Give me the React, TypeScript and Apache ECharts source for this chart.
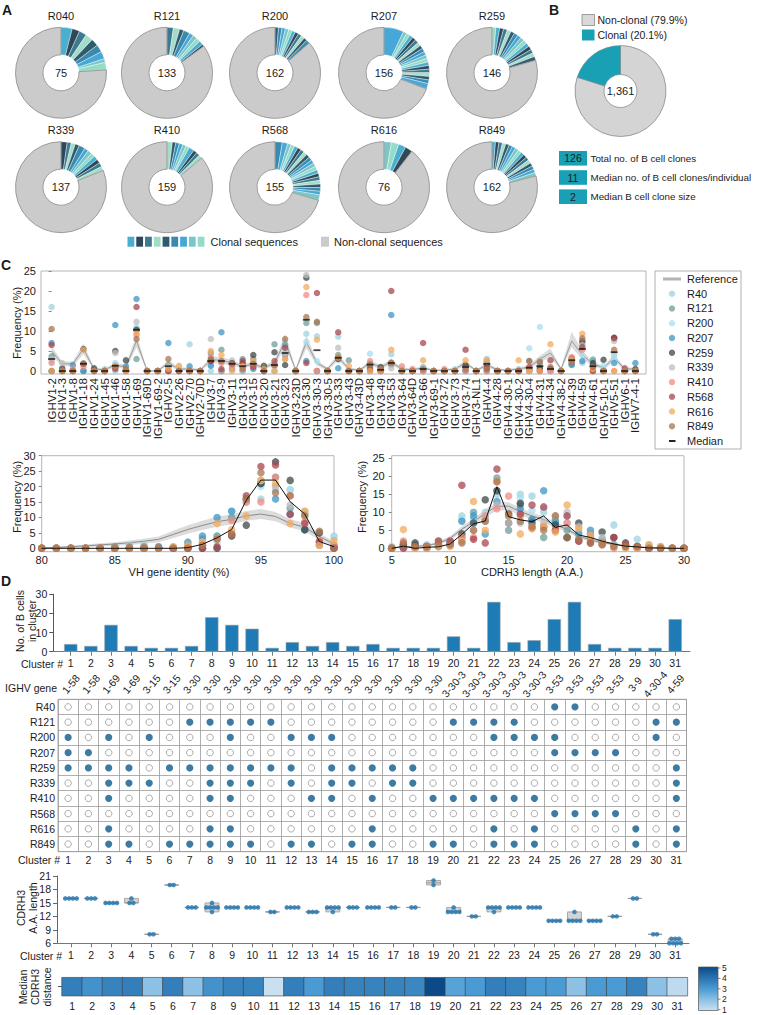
import React, { useEffect, useRef } from 'react';
import * as echarts from 'echarts';

const FONT = '"Liberation Sans", Arial, Helvetica, sans-serif';
const INK = '#1b1b1b';

// ---------- Panel A: clonal composition per donor ----------
const donorLabels = ['R040', 'R121', 'R200', 'R207', 'R259', 'R339', 'R410', 'R568', 'R616', 'R849'];
const donorTotals = [75, 133, 162, 156, 146, 137, 159, 155, 76, 162];
const clonesR040 = [3, 2, 2, 2, 2, 2, 2, 1, 2];
const clonesR121 = [3, 3, 2, 3, 2, 2, 2, 2, 1];
const clonesR200 = [2, 2, 2, 2, 2, 2, 2, 2, 2, 2, 2];
const clonesR207 = [11, 2, 2, 2, 2, 2, 2, 2, 2, 2, 2, 2, 2, 2, 2, 2, 2, 2, 3];
const clonesR259 = [2, 2, 2, 2, 2, 2, 2, 2, 2, 2, 2, 2, 2, 2, 2];
const clonesR339 = [3, 2, 2, 2, 3, 2, 2, 2, 2, 2, 2, 2];
const clonesR410 = [3, 2, 2, 2, 2, 2, 3, 2, 2, 2];
const clonesR568 = [4, 3, 2, 2, 2, 2, 2, 2, 2, 2, 2, 2, 2, 2, 2, 2, 2, 2, 2, 2, 3];
const clonesR616 = [2, 2, 2, 2];
const clonesR849 = [2, 2, 2, 2, 2, 2, 2, 2, 2, 2, 2, 2, 2, 2, 2, 2, 2];
const donorClones = [clonesR040, clonesR121, clonesR200, clonesR207, clonesR259, clonesR339, clonesR410, clonesR568, clonesR616, clonesR849];
const clonalPalette = ['#4aaed0', '#2f4858', '#3c7a92', '#a5dcc8', '#2f5c6c', '#3a8ab0', '#47a8d8', '#7cc6c8', '#95dcc8'];

// ---------- Panel B ----------
const overallTotalLabel = '1,361';
const overallNames = ['Non-clonal (79.9%)', 'Clonal (20.1%)'];
const overallShares = [79.9, 20.1];
const statValues = ['126', '11', '2'];
const statLabels = ['Total no. of B cell clones', 'Median no. of B cell clones/individual', 'Median B cell clone size'];

// ---------- Panel C ----------
const subjects = ['R40', 'R121', 'R200', 'R207', 'R259', 'R339', 'R410', 'R568', 'R616', 'R849'];
const subjectColors = ['#9fd3df', '#6f9e9c', '#a7dff0', '#3d94c6', '#3f4545', '#bdbdbd', '#f28b83', '#a8464f', '#f2a95c', '#a8754f'];
const ighvGenes = ['IGHV1-2', 'IGHV1-3', 'IGHV1-8', 'IGHV1-18', 'IGHV1-24', 'IGHV1-45', 'IGHV1-46', 'IGHV1-58',
  'IGHV1-69', 'IGHV1-69D', 'IGHV1-69-2', 'IGHV2-5', 'IGHV2-26', 'IGHV2-70', 'IGHV2-70D', 'IGHV3-7',
  'IGHV3-9', 'IGHV3-11', 'IGHV3-13', 'IGHV3-15', 'IGHV3-20', 'IGHV3-21', 'IGHV3-23', 'IGHV3-23D',
  'IGHV3-30', 'IGHV3-30-3', 'IGHV3-30-5', 'IGHV3-33', 'IGHV3-43', 'IGHV3-43D', 'IGHV3-48', 'IGHV3-49',
  'IGHV3-53', 'IGHV3-64', 'IGHV3-64D', 'IGHV3-66', 'IGHV3-69-1', 'IGHV3-72', 'IGHV3-73', 'IGHV3-74',
  'IGHV3-NL1', 'IGHV4-4', 'IGHV4-28', 'IGHV4-30-1', 'IGHV4-30-2', 'IGHV4-30-4', 'IGHV4-31', 'IGHV4-34',
  'IGHV4-38-2', 'IGHV4-39', 'IGHV4-59', 'IGHV4-61', 'IGHV5-10-1', 'IGHV5-51', 'IGHV6-1', 'IGHV7-4-1'];
const geneR40 = [16, 0, 0, 0, 0, 0.5, 0, 0, 10.5, 0, 0, 1, 0, 6.7, 0, 0, 2.3, 2.7, 1, 1.8, 0, 1, 7, 0, 9.3, 8.7, 0, 8.6, 0, 0, 2, 0.5, 4.2, 0, 0, 0.5, 0, 0, 0, 0, 0, 3, 0, 0, 0.5, 0, 1.5, 0, 0, 2, 2, 3, 0.5, 4, 0, 0];
const geneR121 = [3.7, 0, 0, 0, 0, 0, 1.5, 0, 3, 0, 0, 1.5, 0, 0, 0, 4.5, 5.3, 2, 3, 3, 0, 6.7, 6.5, 0, 12, 12, 0, 4, 2.7, 0, 1, 0, 1.5, 0, 0, 1, 0, 0, 0, 1, 0, 2.5, 0, 0, 0, 2.5, 2.5, 0, 0, 1.8, 7, 2.7, 0, 8.3, 0, 0];
const geneR200 = [2.5, 0, 0, 1.8, 0, 0, 2, 0, 11, 0, 0, 0.5, 1, 0, 0, 1.5, 2.5, 1.5, 0.5, 2, 0, 0, 5, 0, 7.3, 2.5, 0, 2.7, 0, 0, 4.3, 0, 2, 0.5, 0, 1, 0, 0, 0.5, 0, 0, 3, 0, 0, 0, 5.7, 11, 0, 0, 1.5, 4, 1, 1.3, 3, 0, 0];
const geneR207 = [7, 0, 1.5, 0, 0, 0, 11.5, 1.2, 18, 0, 0, 7, 0, 1.2, 0, 1.3, 9.7, 0.5, 0, 0.5, 0, 1.5, 4, 0, 2.5, 0, 0, 0.7, 0, 0, 1.5, 0, 14, 0, 0, 0, 0, 0, 0, 0, 0, 0, 0, 0, 0, 0, 1, 0.5, 0, 1.5, 2.5, 1.5, 0, 2, 0, 2];
const geneR259 = [0, 0.7, 0, 5.5, 0.7, 0, 5, 2.7, 10.3, 0, 0, 0, 0, 0, 0, 2.5, 0, 1.8, 2, 4, 1.3, 4.7, 1.5, 0, 23.3, 0, 0, 3, 0, 0, 0, 1, 2, 0, 0, 0, 0, 0, 0, 1.5, 0, 1.7, 0, 0, 0, 0.3, 0.5, 0.5, 0, 3.2, 7.5, 2, 2.8, 8.3, 0, 0.5];
const geneR339 = [3, 2, 0, 2, 0, 0, 4.5, 0, 12.3, 0, 0, 1.2, 0, 0, 0, 8, 0, 1.8, 0, 1.8, 0, 0, 4.5, 0, 24, 0, 0, 5.8, 0, 0, 0, 0, 0.7, 0, 0, 0, 0, 0, 0, 0.5, 0, 2.3, 0, 0, 0, 0, 2.5, 0, 0, 2.5, 6.5, 0, 0, 7.5, 0, 0];
const geneR410 = [2, 0, 0.5, 1, 0, 0, 1, 0, 9, 0, 0, 0, 0, 0, 0, 3.5, 2, 1, 1.2, 1, 0, 1.5, 3, 0, 19, 0, 0, 3.3, 0, 0, 2.5, 0.3, 2.2, 1.2, 0.5, 0, 0, 0.5, 0, 0, 0, 0, 0, 0, 0, 0, 0, 0, 0, 3.5, 5.3, 0, 0, 0, 0, 0];
const geneR568 = [6.5, 0, 0, 1.8, 0, 0, 0.5, 0, 16, 0, 0, 0, 0, 0, 0, 2.5, 0.5, 2, 2.5, 1, 0, 2.5, 5.8, 0, 2, 19.5, 0, 9.7, 0, 0, 0.5, 0, 20, 0, 0, 7, 0, 0, 0, 5.3, 0, 0.7, 0, 0, 0, 1, 0, 2.7, 0, 2.7, 6, 0, 0, 8.2, 0.7, 0];
const geneR616 = [0, 0, 0, 5.3, 0, 0, 1.3, 0, 9.5, 0, 0, 0.5, 1.3, 0, 0, 5, 4, 0, 1.2, 2.5, 0.5, 0, 3, 0, 21, 7.8, 0, 3.5, 1.3, 0, 0, 0, 5.3, 0, 0, 2.7, 0, 0, 0, 2.7, 0, 2.7, 0, 0, 2.7, 0, 0, 6.7, 0, 2.8, 9.3, 0.5, 0, 0, 0, 0];
const geneR849 = [10.5, 0, 0, 1.8, 0, 0, 1, 0.5, 8, 0, 0, 3, 0, 0, 0, 3, 2.5, 1.8, 0.5, 1.8, 0, 1.5, 8, 0, 13.5, 12.3, 0, 3.3, 0, 0, 1.6, 0.5, 2, 0, 0, 0.5, 0, 0, 0, 0.5, 0, 0.5, 0, 0, 0, 2.5, 2.2, 1, 0, 2, 8.2, 1, 0, 5.3, 0, 0];
const geneFreq = [geneR40, geneR121, geneR200, geneR207, geneR259, geneR339, geneR410, geneR568, geneR616, geneR849];
const geneMedian = [3, 0, 0, 1.8, 0, 0, 1.3, 0, 10.3, 0, 0, 1.2, 0, 0, 0, 2.5, 2.5, 1.8, 1.2, 1.8, 0, 1.5, 4.5, 0, 12.8, 5.2, 0, 3.3, 0, 0, 1.6, 0.3, 2, 0, 0, 0.5, 0, 0, 0, 1, 0, 1.8, 0, 0, 0, 0.8, 1.2, 0.5, 0, 2.7, 5.5, 1.2, 0, 4.7, 0, 0];
const geneRef = [5, 1.8, 1.8, 5.5, 0.5, 0.3, 1.5, 1, 7.5, 0, 0, 2, 0.5, 0.5, 0.2, 2.8, 2.7, 2, 1.2, 1.7, 0.8, 2, 7.5, 0.2, 7.2, 2, 0.5, 3.5, 0.5, 0.2, 2, 1, 2.2, 0.5, 0.3, 0.8, 0.1, 0.2, 0.5, 2, 0.1, 1.5, 0.3, 0.2, 0.5, 1, 3, 4.5, 0.5, 7.5, 4, 1.8, 0.8, 3.3, 0.5, 0.5];
const geneRefLow = [3.8, 1.2, 1.2, 4.2, 0.1, 0, 0.9, 0.5, 5.9, 0, 0, 1.3, 0.1, 0.1, 0, 2.0, 1.9, 1.3, 0.7, 1.1, 0.4, 1.3, 5.9, 0, 5.6, 1.3, 0.1, 2.6, 0.1, 0, 1.3, 0.5, 1.5, 0.1, 0, 0.4, 0, 0, 0.1, 1.3, 0, 0.9, 0, 0, 0.1, 0.5, 2.2, 3.4, 0.1, 5.9, 3.0, 1.2, 0.4, 2.4, 0.1, 0.1];
const geneRefHigh = [6.2, 2.4, 2.4, 6.8, 0.9, 0.65, 2.1, 1.5, 9.2, 0.3, 0.3, 2.7, 0.9, 0.9, 0.5, 3.6, 3.5, 2.7, 1.7, 2.3, 1.2, 2.7, 9.2, 0.5, 8.8, 2.7, 0.9, 4.4, 0.9, 0.5, 2.7, 1.5, 2.9, 0.9, 0.65, 1.2, 0.4, 0.5, 0.9, 2.7, 0.4, 2.1, 0.65, 0.5, 0.9, 1.5, 3.8, 5.6, 0.9, 9.8, 5.0, 2.4, 1.2, 4.2, 0.9, 0.9];

const vhIdentity = [80, 81, 82, 83, 84, 85, 86, 87, 88, 89, 90, 91, 92, 93, 94, 95, 96, 97, 98, 99, 100];
const vhR40 = [0, 0, 0, 0, 0, 0, 1, 1, 0.5, 0.5, 1, 2, 4, 10, 16, 16, 19, 19, 12, 1, 4];
const vhR121 = [0, 0, 0, 0, 0, 0.5, 0.5, 0.5, 0, 0, 0, 3, 4, 10, 16, 21, 23, 13, 11, 2, 1];
const vhR200 = [0, 0, 0, 0, 0, 0, 0, 0, 0, 0, 1, 2, 2, 12, 15, 20, 20, 19, 7, 2, 3.5];
const vhR207 = [0, 0, 0, 0, 0, 0, 0, 0, 0.5, 0, 2, 4, 10, 12, 16, 21, 16, 11, 6, 1, 0.5];
const vhR259 = [0, 0, 0, 0, 0, 0, 0, 0, 0, 0, 0, 0, 0, 4, 7.5, 21, 28, 22, 6, 5, 0];
const vhR339 = [0, 0, 0, 0, 0, 0, 0, 0, 0, 0, 0, 2, 3, 5, 15, 22, 20, 14, 11, 1, 0];
const vhR410 = [0, 0, 0, 0, 0, 0, 0, 0, 0, 0, 0.5, 1, 3, 9, 15, 15, 23, 17, 8.5, 2.5, 1];
const vhR568 = [0, 0, 0, 0, 0, 0, 0, 0, 0, 0, 0, 0, 0.5, 4.5, 17, 26.5, 27, 11, 8, 2, 0];
const vhR616 = [0, 0, 0, 0, 0, 0, 0, 0, 0, 0.5, 1, 2, 8, 6, 10.5, 22, 21, 8, 12, 1, 2.5];
const vhR849 = [0, 0, 0, 0, 0, 0, 0, 0, 0, 0, 0, 1, 3, 4.5, 16, 24.5, 18, 17, 10.5, 5.5, 0];
const vhFreq = [vhR40, vhR121, vhR200, vhR207, vhR259, vhR339, vhR410, vhR568, vhR616, vhR849];
const vhMedian = [0, 0, 0, 0, 0, 0, 0, 0, 0, 0, 0.2, 1.3, 3.4, 6.1, 15.6, 22.1, 22.1, 15.1, 11.1, 2.2, 0.5];
const vhRef = [0.1, 0.3, 0.5, 0.8, 1.1, 1.4, 1.8, 2.3, 2.9, 4.5, 6.1, 7.4, 8.6, 9.4, 10.5, 11.1, 10.3, 8.1, 6.8, 3.8, 1.4];
const vhRefLow = [0, 0.1, 0.2, 0.4, 0.6, 0.8, 1.1, 1.5, 2, 3.3, 4.7, 5.9, 7, 7.8, 8.9, 9.5, 8.8, 6.7, 5.5, 2.7, 0.6];
const vhRefHigh = [0.2, 0.5, 0.8, 1.2, 1.6, 2, 2.5, 3.1, 3.8, 5.7, 7.5, 8.9, 10.2, 11, 12.1, 12.7, 11.8, 9.5, 8.1, 4.9, 2.2];

const cdrLength = [5, 6, 7, 8, 9, 10, 11, 12, 13, 14, 15, 16, 17, 18, 19, 20, 21, 22, 23, 24, 25, 26, 27, 28, 29, 30];
const cdrR40 = [0.5, 1, 0.5, 1, 1, 2, 9, 8, 10, 15, 9, 15, 14.5, 10, 8, 7, 4.5, 3, 2, 6.5, 1, 2.5, 1, 0.5, 0, 0];
const cdrR121 = [0, 1, 1, 0, 1, 1, 3, 10, 8, 19.5, 5, 12, 8, 3, 7, 5, 2, 3, 2.5, 1, 1, 0.5, 0, 0, 0, 0];
const cdrR200 = [0, 0, 0, 1, 1, 1, 8, 7, 9, 16, 10, 14, 10.5, 11, 8, 9, 3, 4, 2, 1, 0, 0.5, 0.5, 0, 0, 0];
const cdrR207 = [0, 0.5, 0.5, 0.5, 1, 1.5, 7.5, 9, 4, 13, 9, 11, 8, 16, 7.5, 3, 4, 5, 2, 1, 0.5, 0, 0, 0, 0, 0];
const cdrR259 = [0, 1, 1.5, 0.5, 0.5, 1.5, 4, 7, 13.5, 16, 7, 12.5, 7, 6, 6.5, 3, 7, 4, 4.5, 3, 1.5, 0.5, 0, 0, 0, 0];
const cdrR339 = [0, 0, 0, 0, 2, 2, 2, 5, 7.5, 12, 7, 7, 6, 7, 9, 10, 6, 4, 3, 1, 0.5, 0.5, 0.5, 0, 0, 0];
const cdrR410 = [0, 2, 0, 0, 1, 1, 3, 3, 9, 11, 14.5, 9, 5.5, 6, 5, 7, 2, 2, 1, 0, 1, 0, 0, 0, 0, 0];
const cdrR568 = [0, 0, 0.5, 0.5, 2, 2, 17.5, 2.5, 1.5, 22, 9.5, 9.5, 12, 11.5, 5, 9, 2, 1.5, 1.5, 3, 1, 0.5, 0, 0, 0, 0];
const cdrR616 = [0, 5.2, 0, 0.5, 0.5, 0.5, 2, 13, 5, 18.5, 9, 4, 5.5, 6, 4.5, 12, 5.5, 3.5, 1.5, 0.5, 0, 0, 1, 0.5, 0, 0];
const cdrR849 = [0, 1.5, 0.5, 0.5, 1.5, 1, 1.5, 5, 7.5, 18.5, 9.5, 7.5, 6, 5, 9, 3, 2.5, 1.5, 1, 0.5, 0.5, 0.5, 0, 0, 0, 0];
const cdrFreq = [cdrR40, cdrR121, cdrR200, cdrR207, cdrR259, cdrR339, cdrR410, cdrR568, cdrR616, cdrR849];
const cdrMedian = [0, 0.6, 0, 0.3, 0.4, 1.2, 3.9, 6.8, 7.6, 17.1, 8.8, 7.9, 7.4, 9, 5.8, 6.5, 3.7, 3, 2, 1.2, 0.6, 0.4, 0.1, 0.1, 0, 0];
const cdrRef = [0.1, 0.3, 0.5, 0.8, 1.4, 2.8, 5.3, 7.4, 9.7, 11.7, 11.7, 10.2, 9, 8, 6.5, 5.3, 3.4, 2.3, 1.6, 1.1, 0.6, 0.4, 0.2, 0.1, 0, 0];
const cdrRefLow = [0, 0.1, 0.3, 0.5, 1, 2.2, 4.5, 6.5, 8.6, 10.5, 10.6, 9.2, 8.1, 7.1, 5.7, 4.6, 2.8, 1.8, 1.2, 0.8, 0.4, 0.2, 0.1, 0, 0, 0];
const cdrRefHigh = [0.2, 0.5, 0.8, 1.1, 1.8, 3.4, 6.1, 8.3, 10.8, 12.9, 12.8, 11.2, 9.9, 8.9, 7.3, 6, 4, 2.8, 2, 1.4, 0.8, 0.6, 0.3, 0.2, 0.1, 0.1];

// ---------- Panel D ----------
const clusterIds = [1, 2, 3, 4, 5, 6, 7, 8, 9, 10, 11, 12, 13, 14, 15, 16, 17, 18, 19, 20, 21, 22, 23, 24, 25, 26, 27, 28, 29, 30, 31];
const clusterSizes = [4, 3, 14, 3, 2, 2, 3, 18, 14, 12, 2, 5, 3, 5, 3, 4, 2, 2, 2, 8, 2, 26, 5, 6, 17, 26, 4, 2, 2, 2, 17];
const clusterGenes = ['1-58', '1-58', '1-69', '1-69', '3-15', '3-15', '3-30', '3-30', '3-30', '3-30', '3-30', '3-30', '3-30', '3-30', '3-30', '3-30', '3-30', '3-30', '3-30', '3-30-3', '3-30-3', '3-30-3', '3-30-3', '3-30-3', '3-53', '3-53', '3-53', '3-53', '3-9', '4-30-4', '4-59'];
const matrixDonors = ['R40', 'R121', 'R200', 'R207', 'R259', 'R339', 'R410', 'R568', 'R616', 'R849'];
const memberR40 = [25, 26];
const memberR121 = [7, 8, 9, 10, 11, 20, 21, 22, 23, 30, 31];
const memberR200 = [1, 3, 5, 9, 12, 13, 14, 22, 23, 24, 25, 30];
const memberR207 = [1, 2, 25, 26, 27, 28];
const memberR259 = [1, 2, 3, 4, 6, 7, 8, 9, 10, 11, 12, 14, 15, 16, 17, 18, 31];
const memberR339 = [3, 4, 5, 8, 9, 10, 12, 14, 15, 17, 18, 31];
const memberR410 = [3, 8, 9, 13, 14, 16, 19, 20, 21, 22, 23, 24, 31];
const memberR568 = [25, 26, 27, 28];
const memberR616 = [3, 8, 9, 16, 22, 24, 29, 31];
const memberR849 = [3, 4, 6, 7, 8, 9, 10, 12, 13, 15, 16, 19, 20, 22, 23, 24, 29, 31];
const donorMembership = [memberR40, memberR121, memberR200, memberR207, memberR259, memberR339, memberR410, memberR568, memberR616, memberR849];
const cdrh3Dots = [
  [16, 16, 16, 16], [16, 16, 16], [15, 15, 15, 15], [16, 15, 15], [8, 8], [19, 19], [14, 14, 14],
  [15, 14, 14, 14, 14, 13], [14, 14, 14, 14], [14, 14, 14, 14], [13, 13], [14, 14, 14, 14], [13, 13, 13],
  [14, 14, 14, 14, 13], [14, 14, 14], [14, 14, 14, 14], [14, 14], [14, 14], [20, 19], [14, 13, 13, 13, 13],
  [12, 12], [14, 14, 14, 14, 13], [14, 14, 14, 14], [14, 14, 14, 14], [11, 11, 11, 11], [13, 11, 11, 11, 11],
  [11, 11, 11, 11], [12, 12], [16, 16], [8, 8], [7, 7, 7, 6, 6, 6, 6],
];
const cdrh3Box = [
  [16, 16, 16, 16, 16], [16, 16, 16, 16, 16], [15, 15, 15, 15, 15], [15, 15, 15, 16, 16], [8, 8, 8, 8, 8],
  [19, 19, 19, 19, 19], [14, 14, 14, 14, 14], [13, 13, 14, 15, 15], [14, 14, 14, 14, 14], [14, 14, 14, 14, 14],
  [13, 13, 13, 13, 13], [14, 14, 14, 14, 14], [13, 13, 13, 13, 13], [13, 13, 14, 14, 14], [14, 14, 14, 14, 14],
  [14, 14, 14, 14, 14], [14, 14, 14, 14, 14], [14, 14, 14, 14, 14], [19, 19, 19.5, 20, 20], [13, 13, 13, 14, 14],
  [12, 12, 12, 12, 12], [13, 13, 14, 14, 14], [14, 14, 14, 14, 14], [14, 14, 14, 14, 14], [11, 11, 11, 11, 11],
  [11, 11, 11, 13, 13], [11, 11, 11, 11, 11], [12, 12, 12, 12, 12], [16, 16, 16, 16, 16], [8, 8, 8, 8, 8],
  [6, 6, 6, 7, 7],
];
const medianDistance = [3.7, 3.2, 3.6, 3.7, 2, 3.7, 2, 3.2, 3.6, 3.6, 1, 3.7, 3, 3.7, 3.6, 3.6, 3.6, 3.5, 5, 2.8, 3, 3.7, 3.6, 3, 3, 2, 3, 3, 3.6, 2, 1.2];
const heatColors = ['#c9e0f1', '#8cc0e4', '#4a9ad3', '#2a73b0', '#0b4a86'];
const colorbarTicks = ['5', '4', '3', '2', '1'];

// ---------- helpers ----------
function txt(x: number, y: number, s: string, o: any = {}) {
  return {
    type: 'text', x, y, silent: true, rotation: o.rotation || 0, z: 100,
    style: {
      text: s, fill: o.color || INK, fontSize: o.size || 11, fontFamily: FONT,
      fontWeight: o.weight || 'normal', align: o.align || 'left', verticalAlign: 'middle',
    },
  };
}
const lab = (extra: any = {}) => ({ color: INK, fontFamily: FONT, fontSize: 11, ...extra });

function bandSeries(xi: number, yi: number, xs: number[], lo: number[], hi: number[]) {
  return {
    type: 'custom', xAxisIndex: xi, yAxisIndex: yi, silent: true, z: 1,
    data: [[xs[0], lo[0]]],
    renderItem: (_p: any, api: any) => {
      const top = xs.map((x, i) => api.coord([x, hi[i]]));
      const bot = xs.map((x, i) => api.coord([x, lo[i]])).reverse();
      return { type: 'polygon', shape: { points: top.concat(bot) }, style: { fill: '#d6d6d6', opacity: 0.85 } };
    },
  };
}

// geometry of the D bar axis (used for gene labels placed over the bars)
const BAR_LEFT = 53.3, BAR_WIDTH = 636.7, BAR_MIN = 0.136, BAR_MAX = 31.734;

function buildOption() {
  const series: any[] = [];
  const graphic: any[] = [];

  // ----- Panel A -----
  const pieX = [61, 167, 275, 384, 492];
  const pieY = [72.8, 187.2];
  const titleY = [16, 129.5];
  donorClones.forEach((clones, d) => {
    const cx = pieX[d % 5];
    const row = Math.floor(d / 5);
    const sum = clones.reduce((a, b) => a + b, 0);
    series.push({
      type: 'pie', silent: true, center: [cx, pieY[row]], radius: [18, 45.5], startAngle: 90, clockwise: true,
      avoidLabelOverlap: false, label: { show: false }, labelLine: { show: false }, z: 2,
      data: [
        ...clones.map((v, i) => ({ value: v, itemStyle: { color: clonalPalette[(i + d * 2) % 9], borderColor: 'rgba(255,255,255,0.75)', borderWidth: 0.5 } })),
        {
          value: donorTotals[d] - sum,
          itemStyle: { color: '#cbcbcb', borderColor: '#8c8c8c', borderWidth: 0.8 },
          label: { show: true, position: 'center', formatter: String(donorTotals[d]), fontSize: 11, color: INK, fontFamily: FONT },
        },
      ],
    });
    graphic.push(txt(cx, titleY[row], donorLabels[d], { align: 'center' }));
  });
  // legend A
  clonalPalette.forEach((c, i) => {
    graphic.push({ type: 'rect', silent: true, shape: { x: 127.5 + i * 8.77, y: 236.7, width: 6.8, height: 10 }, style: { fill: c } });
  });
  graphic.push(txt(210.5, 242, 'Clonal sequences'));
  graphic.push({ type: 'rect', silent: true, shape: { x: 321, y: 236.7, width: 8, height: 10 }, style: { fill: '#cbcbcb' } });
  graphic.push(txt(334, 242, 'Non-clonal sequences'));

  // ----- Panel B -----
  series.push({
    type: 'pie', silent: true, center: [620.5, 91], radius: [16.5, 45.5], startAngle: 90, clockwise: true,
    avoidLabelOverlap: false, label: { show: false }, labelLine: { show: false },
    data: [
      {
        name: overallNames[0], value: overallShares[0], itemStyle: { color: '#d4d4d4', borderColor: '#8c8c8c', borderWidth: 0.8 },
        label: { show: true, position: 'center', formatter: overallTotalLabel, fontSize: 11, color: INK, fontFamily: FONT },
      },
      { name: overallNames[1], value: overallShares[1], itemStyle: { color: '#1aa0b4', borderColor: '#8c8c8c', borderWidth: 0.5 } },
    ],
  });
  graphic.push({ type: 'rect', silent: true, shape: { x: 582, y: 14.5, width: 12.5, height: 11 }, style: { fill: '#d9d9d9', stroke: '#8c8c8c', lineWidth: 0.8 } });
  graphic.push({ type: 'rect', silent: true, shape: { x: 582, y: 29.5, width: 12.5, height: 11 }, style: { fill: '#1aa0b4' } });
  graphic.push(txt(597.5, 20, overallNames[0], { size: 10.5 }));
  graphic.push(txt(597.5, 35, overallNames[1], { size: 10.5 }));
  const statY = [158.3, 177.5, 196.7];
  statValues.forEach((v, i) => {
    graphic.push({ type: 'rect', silent: true, shape: { x: 559, y: statY[i] - 7.3, width: 28, height: 14.6 }, style: { fill: '#1aa0b4' } });
    graphic.push(txt(573, statY[i], v, { align: 'center', size: 10.5 }));
    graphic.push(txt(590.5, statY[i], statLabels[i], { size: 9.8 }));
  });

  // ----- Panel C: gene usage -----
  const geneIdx = ighvGenes.map((_, i) => i);
  series.push(bandSeries(0, 0, geneIdx, geneRefLow, geneRefHigh));
  series.push({ type: 'line', xAxisIndex: 0, yAxisIndex: 0, silent: true, z: 2, showSymbol: false, data: geneRef.map((v, i) => [i, v]), lineStyle: { color: '#9a9a9a', width: 1 } });
  subjects.forEach((s, k) => {
    series.push({ type: 'scatter', name: s, xAxisIndex: 0, yAxisIndex: 0, silent: true, z: 3, symbolSize: 6.5, itemStyle: { color: subjectColors[k], opacity: 0.75 }, data: geneFreq[k].map((v, i) => [i, v]) });
  });
  series.push({ type: 'scatter', xAxisIndex: 0, yAxisIndex: 0, silent: true, z: 4, symbol: 'rect', symbolSize: [7, 1.8], itemStyle: { color: '#111' }, data: geneMedian.map((v, i) => [i, v]) });

  // ----- Panel C: VH identity -----
  series.push(bandSeries(1, 1, vhIdentity, vhRefLow, vhRefHigh));
  series.push({ type: 'line', xAxisIndex: 1, yAxisIndex: 1, silent: true, z: 2, showSymbol: false, data: vhIdentity.map((x, i) => [x, vhRef[i]]), lineStyle: { color: '#8c8c8c', width: 1 } });
  subjects.forEach((s, k) => {
    series.push({ type: 'scatter', xAxisIndex: 1, yAxisIndex: 1, silent: true, z: 3, symbolSize: 7.5, itemStyle: { color: subjectColors[k], opacity: 0.75 }, data: vhIdentity.map((x, i) => [x, vhFreq[k][i]]) });
  });
  series.push({ type: 'line', xAxisIndex: 1, yAxisIndex: 1, silent: true, z: 4, showSymbol: false, data: vhIdentity.map((x, i) => [x, vhMedian[i]]), lineStyle: { color: '#111', width: 1 } });

  // ----- Panel C: CDRH3 length -----
  series.push(bandSeries(2, 2, cdrLength, cdrRefLow, cdrRefHigh));
  series.push({ type: 'line', xAxisIndex: 2, yAxisIndex: 2, silent: true, z: 2, showSymbol: false, data: cdrLength.map((x, i) => [x, cdrRef[i]]), lineStyle: { color: '#8c8c8c', width: 1 } });
  subjects.forEach((s, k) => {
    series.push({ type: 'scatter', xAxisIndex: 2, yAxisIndex: 2, silent: true, z: 3, symbolSize: 7.5, itemStyle: { color: subjectColors[k], opacity: 0.75 }, data: cdrLength.map((x, i) => [x, cdrFreq[k][i]]) });
  });
  series.push({ type: 'line', xAxisIndex: 2, yAxisIndex: 2, silent: true, z: 4, showSymbol: false, data: cdrLength.map((x, i) => [x, cdrMedian[i]]), lineStyle: { color: '#111', width: 1 } });

  // legend C
  graphic.push({ type: 'rect', silent: true, shape: { x: 655, y: 271, width: 86, height: 178 }, style: { fill: '#fff', stroke: '#b0b0b0', lineWidth: 1 } });
  graphic.push({ type: 'line', silent: true, shape: { x1: 663, y1: 279, x2: 681, y2: 279 }, style: { stroke: '#b3b3b3', lineWidth: 3 } });
  graphic.push(txt(687, 279, 'Reference'));
  subjects.forEach((s, k) => {
    const y = 279 + 14.73 * (k + 1);
    graphic.push({ type: 'circle', silent: true, shape: { cx: 672, cy: y, r: 3.2 }, style: { fill: subjectColors[k], opacity: 0.75 } });
    graphic.push(txt(687, y, s));
  });
  graphic.push({ type: 'line', silent: true, shape: { x1: 669, y1: 441, x2: 675.5, y2: 441 }, style: { stroke: '#222', lineWidth: 2 } });
  graphic.push(txt(687, 441, 'Median'));

  // axis titles C
  graphic.push(txt(16.7, 323, 'Frequency (%)', { rotation: Math.PI / 2, align: 'center' }));
  graphic.push(txt(16.7, 497, 'Frequency (%)', { rotation: Math.PI / 2, align: 'center' }));
  graphic.push(txt(362, 497, 'Frequency (%)', { rotation: Math.PI / 2, align: 'center' }));
  graphic.push(txt(179, 571.7, 'VH gene identity (%)', { align: 'center' }));
  graphic.push(txt(532, 571.7, 'CDRH3 length (A.A.)', { align: 'center' }));

  // ----- Panel D: bars -----
  series.push({
    type: 'bar', xAxisIndex: 3, yAxisIndex: 3, silent: true, barWidth: 13.3,
    itemStyle: { color: '#1f7bb5', borderColor: '#9aa4aa', borderWidth: 0.6 },
    data: clusterIds.map((c, i) => [c, clusterSizes[i]]),
  });
  graphic.push(txt(19.5, 621, 'No. of B cells', { rotation: Math.PI / 2, align: 'center', size: 10.5 }));
  graphic.push(txt(31.5, 621, 'in cluster', { rotation: Math.PI / 2, align: 'center', size: 10.5 }));
  graphic.push(txt(63, 664, 'Cluster #', { align: 'right', size: 10.5 }));
  graphic.push(txt(57, 688, 'IGHV gene', { align: 'right', size: 10.5 }));
  clusterGenes.forEach((g, i) => {
    const x = BAR_LEFT + ((clusterIds[i] - BAR_MIN) / (BAR_MAX - BAR_MIN)) * BAR_WIDTH;
    graphic.push(txt(x, 684, g, { rotation: (50 * Math.PI) / 180, align: 'center', size: 10.5 }));
  });

  // ----- Panel D: membership matrix -----
  const filled: number[][] = [];
  const empty: number[][] = [];
  donorMembership.forEach((mem, r) => {
    clusterIds.forEach((c, ci) => (mem.indexOf(c) >= 0 ? filled : empty).push([ci, r]));
  });
  series.push({ type: 'scatter', xAxisIndex: 4, yAxisIndex: 4, silent: true, z: 3, symbolSize: 6.5, itemStyle: { color: '#fff', borderColor: '#7d7d7d', borderWidth: 0.8 }, data: empty });
  series.push({ type: 'scatter', xAxisIndex: 4, yAxisIndex: 4, silent: true, z: 3, symbolSize: 7.2, itemStyle: { color: '#0e5a8c' }, data: filled });
  graphic.push(txt(60, 860, 'Cluster #', { align: 'right', size: 10.5 }));

  // ----- Panel D: CDRH3 box plot -----
  series.push({
    type: 'custom', xAxisIndex: 5, yAxisIndex: 5, silent: true, z: 2,
    data: cdrh3Box.map((b, i) => [clusterIds[i], ...b]),
    encode: { x: 0, y: [1, 2, 3, 4, 5] },
    renderItem: (_p: any, api: any) => {
      const x = api.value(0);
      const q1 = api.coord([x, api.value(2)]);
      const q3 = api.coord([x, api.value(4)]);
      const md = api.coord([x, api.value(3)]);
      const w = 14;
      return {
        type: 'group', children: [
          { type: 'rect', shape: { x: q1[0] - w / 2, y: q3[1], width: w, height: Math.max(q1[1] - q3[1], 0.01) }, style: { fill: '#d4d4d4', stroke: '#9a9a9a', lineWidth: 0.8 } },
          { type: 'line', shape: { x1: md[0] - w / 2, y1: md[1], x2: md[0] + w / 2, y2: md[1] }, style: { stroke: '#9a9a9a', lineWidth: 1 } },
        ],
      };
    },
  });
  const boxDots: number[][] = [];
  cdrh3Dots.forEach((vals, ci) => {
    const counts: Record<string, number> = {};
    vals.forEach((v) => (counts[v] = (counts[v] || 0) + 1));
    const seen: Record<string, number> = {};
    vals.forEach((v) => {
      const k = counts[v];
      const j = seen[v] || 0;
      seen[v] = j + 1;
      boxDots.push([clusterIds[ci] + (j - (k - 1) / 2) * 0.19, v]);
    });
  });
  series.push({ type: 'scatter', xAxisIndex: 5, yAxisIndex: 5, silent: true, z: 3, symbolSize: 4.6, itemStyle: { color: '#1f73ad' }, data: boxDots });
  graphic.push(txt(20.5, 908, 'CDRH3', { rotation: Math.PI / 2, align: 'center', size: 10.5 }));
  graphic.push(txt(32.5, 908, 'A.A. length', { rotation: Math.PI / 2, align: 'center', size: 10.5 }));
  graphic.push(txt(62, 956, 'Cluster #', { align: 'right', size: 10.5 }));

  // ----- Panel D: heatmap -----
  const heatIdx = series.length;
  series.push({
    type: 'heatmap', xAxisIndex: 6, yAxisIndex: 6, silent: true,
    itemStyle: { borderColor: '#3d3d3d', borderWidth: 0.6 },
    data: medianDistance.map((v, i) => [i, 0, v]),
  });
  graphic.push(txt(22.5, 987, 'Median', { rotation: Math.PI / 2, align: 'center', size: 10.5 }));
  graphic.push(txt(34.5, 987, 'CDRH3', { rotation: Math.PI / 2, align: 'center', size: 10.5 }));
  graphic.push(txt(46.5, 987, 'distance', { rotation: Math.PI / 2, align: 'center', size: 10.5 }));
  graphic.push({
    type: 'rect', silent: true, shape: { x: 698.5, y: 967, width: 19.5, height: 43.5 },
    style: {
      stroke: '#555', lineWidth: 0.7,
      fill: new echarts.graphic.LinearGradient(0, 0, 0, 1, heatColors.slice().reverse().map((c, i) => ({ offset: i / (heatColors.length - 1), color: c }))),
    },
  });
  const cbY = [968, 978.4, 988.8, 999.2, 1009.6];
  colorbarTicks.forEach((t, i) => {
    graphic.push({ type: 'line', silent: true, shape: { x1: 718, y1: cbY[i], x2: 720.5, y2: cbY[i] }, style: { stroke: '#555', lineWidth: 0.7 } });
    graphic.push(txt(722, cbY[i], t, { size: 8.5 }));
  });

  // panel letters
  graphic.push(txt(2, 10, 'A', { weight: 'bold', size: 14 }));
  graphic.push(txt(549, 9.5, 'B', { weight: 'bold', size: 14 }));
  graphic.push(txt(1, 265, 'C', { weight: 'bold', size: 14 }));
  graphic.push(txt(1, 581, 'D', { weight: 'bold', size: 14 }));

  const frame = { show: true, borderColor: '#b5b5b5', borderWidth: 1, backgroundColor: 'transparent' };
  const clusterTicks = clusterIds;

  return {
    animation: false,
    backgroundColor: '#fff',
    textStyle: { fontFamily: FONT },
    grid: [
      { left: 41, top: 271, width: 605, height: 103, ...frame },
      { left: 41.7, top: 455.7, width: 292.3, height: 96, ...frame },
      { left: 391.7, top: 455.7, width: 292.3, height: 96, ...frame },
      { left: BAR_LEFT, top: 594.2, width: BAR_WIDTH, height: 57.5 },
      { left: 58, top: 699.3, width: 628.5, height: 152.4, show: true, borderColor: '#9a9a9a', borderWidth: 0.8 },
      { left: 57, top: 876, width: 632, height: 67.3 },
      { left: 62, top: 977.7, width: 625.4, height: 18 },
    ],
    xAxis: [
      {
        type: 'value', gridIndex: 0, min: -1, max: 56, interval: 1,
        axisLine: { show: false }, axisTick: { show: false }, splitLine: { show: false },
        axisLabel: lab({ rotate: 90, margin: 4, fontSize: 11.5, formatter: (v: number) => ighvGenes[Math.round(v)] ?? '' }),
      },
      {
        type: 'value', gridIndex: 1, min: 80, max: 100, interval: 5,
        axisLine: { show: false }, axisTick: { show: false }, splitLine: { show: false },
        axisLabel: lab({ margin: 3 }),
      },
      {
        type: 'value', gridIndex: 2, min: 5, max: 30, interval: 5,
        axisLine: { show: false }, axisTick: { show: false }, splitLine: { show: false },
        axisLabel: lab({ margin: 3 }),
      },
      {
        type: 'value', gridIndex: 3, min: BAR_MIN, max: BAR_MAX,
        axisLine: { show: true, onZero: false, lineStyle: { color: '#777' } },
        axisTick: { show: true, length: 4, customValues: clusterTicks, lineStyle: { color: '#777' } },
        axisLabel: lab({ margin: 6, fontSize: 10.5, customValues: clusterTicks }),
        splitLine: { show: false },
      },
      {
        type: 'category', gridIndex: 4, data: clusterIds.map(String),
        axisLine: { show: false }, axisTick: { show: false },
        splitLine: { show: true, interval: 0, lineStyle: { color: '#9a9a9a', width: 0.8 } },
        axisLabel: lab({ margin: 3, fontSize: 10.5, interval: 0 }),
      },
      {
        type: 'value', gridIndex: 5, min: 0.305, max: 31.685,
        axisLine: { show: true, onZero: false, lineStyle: { color: '#777' } },
        axisTick: { show: true, length: 4, customValues: clusterTicks, lineStyle: { color: '#777' } },
        axisLabel: lab({ margin: 6, fontSize: 10.5, customValues: clusterTicks }),
        splitLine: { show: false },
      },
      {
        type: 'category', gridIndex: 6, data: clusterIds.map(String),
        axisLine: { show: false }, axisTick: { show: false }, splitLine: { show: false },
        axisLabel: lab({ margin: 5, fontSize: 10.5, interval: 0 }),
      },
    ],
    yAxis: [
      {
        type: 'value', gridIndex: 0, min: -0.75, max: 25,
        axisLine: { show: false }, splitLine: { show: false },
        axisTick: { show: true, length: 3, customValues: [0, 5, 10, 15, 20, 25], lineStyle: { color: '#888' } },
        axisLabel: lab({ margin: 5, customValues: [0, 5, 10, 15, 20, 25] }),
      },
      {
        type: 'value', gridIndex: 1, min: -1.1, max: 30,
        axisLine: { show: false }, splitLine: { show: false },
        axisTick: { show: true, length: 3, customValues: [0, 5, 10, 15, 20, 25, 30], lineStyle: { color: '#888' } },
        axisLabel: lab({ margin: 6, customValues: [0, 5, 10, 15, 20, 25, 30] }),
      },
      {
        type: 'value', gridIndex: 2, min: -0.94, max: 25.72,
        axisLine: { show: false }, splitLine: { show: false },
        axisTick: { show: true, length: 3, customValues: [0, 5, 10, 15, 20, 25], lineStyle: { color: '#888' } },
        axisLabel: lab({ margin: 7, customValues: [0, 5, 10, 15, 20, 25] }),
      },
      {
        type: 'value', gridIndex: 3, min: 0, max: 30, interval: 10,
        axisLine: { show: true, lineStyle: { color: '#555' } }, splitLine: { show: false },
        axisTick: { show: true, length: 4, lineStyle: { color: '#555' } },
        axisLabel: lab({ margin: 6, fontSize: 10.5 }),
      },
      {
        type: 'category', gridIndex: 4, data: matrixDonors, inverse: true,
        axisLine: { show: false }, axisTick: { show: false },
        splitLine: { show: true, interval: 0, lineStyle: { color: '#9a9a9a', width: 0.8 } },
        axisLabel: lab({ margin: 3, fontSize: 10.5, interval: 0 }),
      },
      {
        type: 'value', gridIndex: 5, min: 6, max: 21, interval: 3,
        axisLine: { show: true, lineStyle: { color: '#666' } }, splitLine: { show: false },
        axisTick: { show: true, length: 4, lineStyle: { color: '#666' } },
        axisLabel: lab({ margin: 6, fontSize: 10.5 }),
      },
      {
        type: 'category', gridIndex: 6, data: [''],
        axisLine: { show: false }, splitLine: { show: false },
        axisTick: { show: true, length: 4, alignWithLabel: true, lineStyle: { color: '#555' } },
        axisLabel: { show: false },
      },
    ],
    visualMap: [
      { type: 'continuous', show: false, seriesIndex: heatIdx, dimension: 2, min: 1, max: 5, inRange: { color: heatColors } },
    ],
    series,
    graphic: { elements: graphic },
  };
}

export default function App() {
  const ref = useRef<HTMLDivElement>(null);
  useEffect(() => {
    const el = ref.current;
    if (!el) return;
    const chart = echarts.init(el, undefined, { renderer: 'svg' });
    chart.setOption(buildOption() as any);
    return () => chart.dispose();
  }, []);
  return <div ref={ref} style={{ position: 'fixed', left: 0, top: 0, width: 758, height: 1015, background: '#fff' }} />;
}
